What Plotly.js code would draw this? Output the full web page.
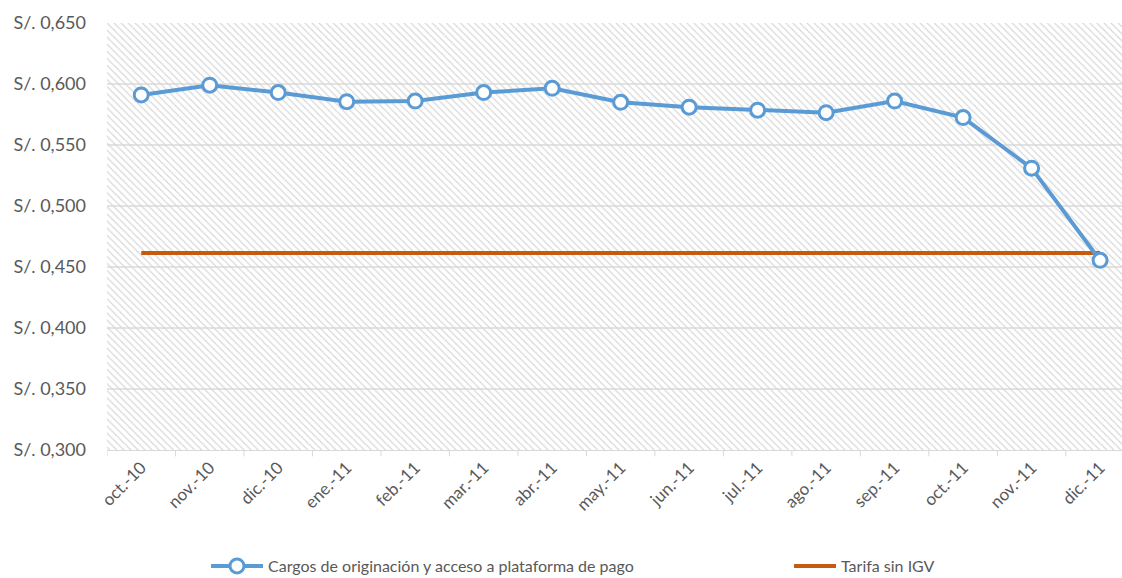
<!DOCTYPE html>
<html>
<head>
<meta charset="utf-8">
<script src="https://cdn.plot.ly/plotly-3.0.1.min.js"></script>
<style>html,body{margin:0;padding:0;background:#fff;}#chart{width:1122px;height:578px;}</style>
</head>
<body>
<div id="chart"></div>
<script>
const categories = ["oct.-10","nov.-10","dic.-10","ene.-11","feb.-11","mar.-11","abr.-11","may.-11","jun.-11","jul.-11","ago.-11","sep.-11","oct.-11","nov.-11","dic.-11"];
const cargos = [0.591,0.599,0.593,0.5855,0.586,0.593,0.5965,0.585,0.581,0.5785,0.5765,0.586,0.5725,0.531,0.4555];
const tarifa = [0.4615,0.4615,0.4615,0.4615,0.4615,0.4615,0.4615,0.4615,0.4615,0.4615,0.4615,0.4615,0.4615,0.4615,0.4615];
const yRange = [0.3, 0.65];
const seriesNames = ["Cargos de originación y acceso a plataforma de pago", "Tarifa sin IGV"];

const fontFam = "Lato, 'Open Sans', sans-serif";
const xIdx = categories.map((c, i) => i);

const background = {
  type: "bar",
  x: xIdx,
  y: categories.map(() => yRange[1] - yRange[0]),
  base: yRange[0],
  width: 1,
  marker: {
    color: "rgba(0,0,0,0)",
    line: {width: 0},
    pattern: {shape: "\\", size: 5, solidity: 0.22, fgcolor: "#d6d6d6", bgcolor: "rgba(0,0,0,0)", fillmode: "replace"}
  },
  hoverinfo: "skip",
  showlegend: false
};

const traceCargos = {
  type: "scatter",
  mode: "lines+markers",
  name: seriesNames[0],
  legend: "legend",
  x: xIdx,
  y: cargos,
  line: {color: "#5B9BD5", width: 4},
  marker: {symbol: "circle", size: 14, color: "#ffffff", line: {color: "#5B9BD5", width: 3}}
};

const traceTarifa = {
  type: "scatter",
  mode: "lines",
  name: seriesNames[1],
  legend: "legend2",
  x: xIdx,
  y: tarifa,
  line: {color: "#C55A11", width: 4}
};

const legendFont = {family: fontFam, size: 16, color: "#595959"};

const layout = {
  width: 1122,
  height: 578,
  margin: {l: 107, r: 0, t: 23, b: 128, pad: 0, autoexpand: false},
  paper_bgcolor: "#ffffff",
  plot_bgcolor: "#ffffff",
  separators: ",.",
  font: {family: fontFam, color: "#595959", size: 15},
  bargap: 0,
  xaxis: {
    range: [-0.5, 14.32],
    tickmode: "array",
    tickvals: xIdx,
    ticktext: categories,
    tickangle: -45,
    showgrid: false,
    zeroline: false,
    showline: true,
    linecolor: "#d9d9d9",
    linewidth: 1,
    ticks: "outside",
    ticklen: 0,
    tickfont: {family: fontFam, size: 17, color: "#595959"},
    fixedrange: true
  },
  yaxis: {
    range: yRange,
    dtick: 0.05,
    tick0: 0.3,
    tickprefix: "S/. ",
    tickformat: ".3f",
    showgrid: true,
    gridcolor: "#e3e3e3",
    gridwidth: 1.3,
    zeroline: false,
    showline: false,
    ticks: "",
    ticklabelstandoff: 20,
    tickfont: {family: fontFam, size: 18, color: "#595959"},
    fixedrange: true
  },
  shapes: xIdx.concat([xIdx.length]).map(i => ({
    type: "line", xref: "x", yref: "paper",
    x0: i - 0.5, x1: i - 0.5, y0: 0, y1: -0.015,
    line: {color: "#d9d9d9", width: 1}
  })),
  legend: {
    orientation: "h",
    xref: "container", yref: "container",
    x: 206 / 1122, y: 1 - 566 / 578,
    xanchor: "left", yanchor: "middle",
    font: legendFont,
    itemwidth: 52,
    bgcolor: "rgba(0,0,0,0)"
  },
  legend2: {
    orientation: "h",
    xref: "container", yref: "container",
    x: 789 / 1122, y: 1 - 566 / 578,
    xanchor: "left", yanchor: "middle",
    font: legendFont,
    itemwidth: 42,
    bgcolor: "rgba(0,0,0,0)"
  },
  showlegend: true
};

Plotly.newPlot("chart", [background, traceTarifa, traceCargos], layout, {staticPlot: true, displayModeBar: false});
</script>
</body>
</html>
